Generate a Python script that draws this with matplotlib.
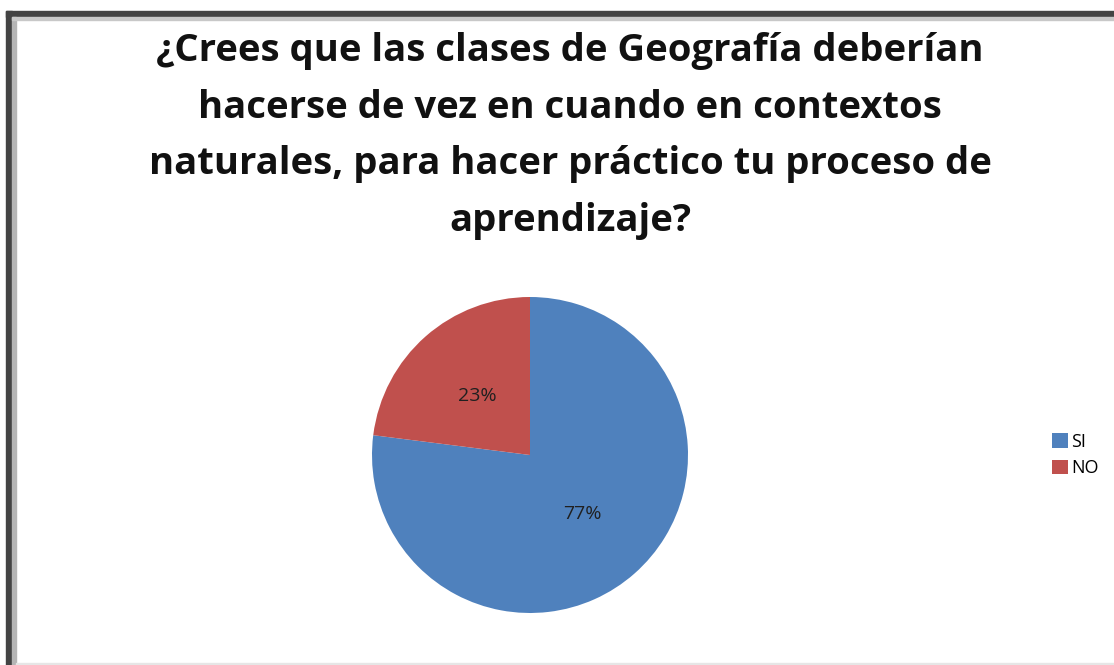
import matplotlib.pyplot as plt
from matplotlib.patches import Rectangle

labels = ['SI', 'NO']
values = [77, 23]
colors = ['#4F81BD', '#C0504D']
title = ('¿Crees que las clases de Geografía deberían\n'
         'hacerse de vez en cuando en contextos\n'
         'naturales, para hacer práctico tu proceso de\n'
         'aprendizaje?')

W, H = 1114, 665
fig = plt.figure(figsize=(W / 100, H / 100), dpi=100)

# frame like the screenshot (dark band top/left, thin grey lines)
fig.patches.append(Rectangle((6 / W, 0), 6 / W, (H - 11) / H, transform=fig.transFigure,
                             color='#434343', zorder=0))
fig.patches.append(Rectangle((6 / W, (H - 17) / H), (W - 6) / W, 6 / H, transform=fig.transFigure,
                             color='#434343', zorder=0))
fig.patches.append(Rectangle((12 / W, 0), 4 / W, (H - 17) / H, transform=fig.transFigure,
                             color='#b5b5b5', zorder=0))
fig.patches.append(Rectangle((12 / W, (H - 20) / H), (W - 12) / W, 3 / H, transform=fig.transFigure,
                             color='#c8c8c8', zorder=0))
fig.patches.append(Rectangle((16 / W, 0), (W - 16) / W, 2 / H, transform=fig.transFigure,
                             color='#e6e6e6', zorder=0))

ax = fig.add_axes([372 / W, (H - 613) / H, 316 / W, 316 / H])
wedges, texts, autotexts = ax.pie(values, colors=colors, startangle=90, counterclock=False,
                                  autopct='%1.0f%%', pctdistance=0.5, radius=1,
                                  textprops={'fontsize': 14, 'color': '#202020',
                                             'family': 'Open Sans'})
ax.set_xlim(-1, 1)
ax.set_ylim(-1, 1)
ax.set_aspect('equal')

fig.text(570 / W, 1 - 136 / H, title, ha='center', va='center', fontsize=27.5,
         fontweight='bold', family='Open Sans', linespacing=1.64, color='#111111')

fig.legend(wedges, labels, loc='center left', bbox_to_anchor=(1036 / W, 1 - 455 / H),
           frameon=False, handlelength=0.85, handleheight=0.85,
           handletextpad=0.2, labelspacing=0.45, prop={'family': 'Open Sans', 'size': 13})

fig.savefig('out.png', dpi=100, facecolor='white')
